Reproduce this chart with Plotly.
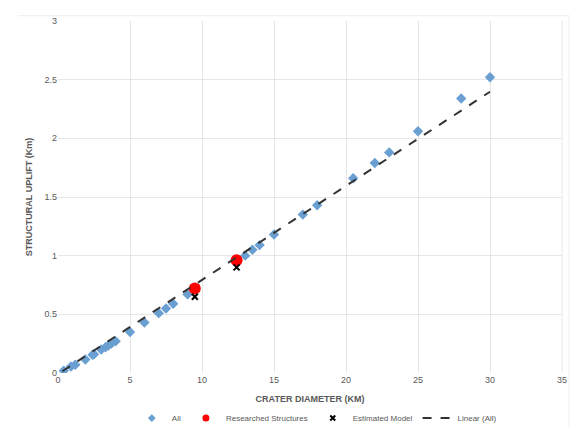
import plotly.graph_objects as go

# Data
all_x = [0.4, 0.9, 1.2, 1.9, 2.4, 2.5, 3.0, 3.3, 3.5, 3.7, 4.0, 5.0, 6.0, 7.0, 7.5, 8.0, 9.0,
         13.0, 13.5, 14.0, 15.0, 17.0, 18.0, 20.5, 22.0, 23.0, 25.0, 28.0, 30.0]
all_y = [0.02, 0.055, 0.07, 0.115, 0.155, 0.16, 0.2, 0.22, 0.235, 0.25, 0.27, 0.35, 0.43, 0.51, 0.55, 0.59, 0.67,
         1.0, 1.05, 1.09, 1.18, 1.35, 1.43, 1.66, 1.79, 1.88, 2.06, 2.34, 2.52]
res_x = [9.5, 12.4]
res_y = [0.72, 0.96]
est_x = [9.5, 12.4]
est_y = [0.65, 0.90]

# Linear trendline coefficients
trend_slope = 0.0802
trend_intercept = -0.009
trend_x = [0.3, 30.0]
trend_y = [trend_slope * v + trend_intercept for v in trend_x]

grey = "#595959"
fig = go.Figure()
fig.add_trace(go.Scatter(x=all_x, y=all_y, mode="markers", name="All", showlegend=False,
                         marker=dict(symbol="diamond", size=8, color="#6a9fd2")))
fig.add_trace(go.Scatter(x=res_x, y=res_y, mode="markers", name="Researched Structures", showlegend=False,
                         marker=dict(symbol="circle", size=12, color="#ff0000")))
fig.add_trace(go.Scatter(x=est_x, y=est_y, mode="markers", name="Estimated Model", showlegend=False,
                         marker=dict(symbol="x-thin", size=6, color="black",
                                     line=dict(width=2, color="black"))))
fig.add_trace(go.Scatter(x=trend_x, y=trend_y, mode="lines", name="Linear (All)", showlegend=False,
                         line=dict(color="#333333", width=2, dash="dash")))

# legend-only entries with small symbols, like the reference legend
fig.add_trace(go.Scatter(x=[None], y=[None], mode="markers", name="All",
                         marker=dict(symbol="diamond", size=6, color="#6a9fd2")))
fig.add_trace(go.Scatter(x=[None], y=[None], mode="markers", name="Researched Structures",
                         marker=dict(symbol="circle", size=7, color="#ff0000")))
fig.add_trace(go.Scatter(x=[None], y=[None], mode="markers", name="Estimated Model",
                         marker=dict(symbol="x-thin", size=5, color="black",
                                     line=dict(width=2, color="black"))))
fig.add_trace(go.Scatter(x=[None], y=[None], mode="lines", name="Linear (All)",
                         line=dict(color="#333333", width=2, dash="dash")))

fig.update_layout(
    width=576, height=427,
    margin=dict(l=58, r=14, t=21, b=54),
    plot_bgcolor="white", paper_bgcolor="white",
    font=dict(family="Liberation Sans, Arial", size=9, color=grey),
    showlegend=True,
    legend=dict(orientation="h", x=0.55, xanchor="center", xref="container",
                y=0.021, yanchor="middle", yref="container",
                font=dict(size=8, color=grey), itemwidth=30, traceorder="normal"),
    xaxis=dict(range=[0, 35], dtick=5, showgrid=True, gridcolor="#e6e6e6", zeroline=False,
               showline=False, ticks="", tickfont=dict(size=9, color=grey), automargin=False,
               title=dict(text="<b>CRATER DIAMETER (KM)</b>", font=dict(size=9, color=grey), standoff=12)),
    yaxis=dict(range=[0, 3], dtick=0.5, showgrid=True, gridcolor="#e6e6e6", zeroline=False,
               showline=False, ticks="", tickfont=dict(size=9, color=grey), automargin=False,
               title=dict(text="<b>STRUCTURAL UPLIFT (Km)</b>", font=dict(size=9, color=grey), standoff=10)),
    shapes=[dict(type="line", xref="paper", yref="paper", x0=1.0, x1=1.0, y0=0, y1=1,
                 line=dict(color="#e6e6e6", width=1)),
            dict(type="line", xref="paper", yref="paper", x0=-0.08, x1=1.014, y0=1.015, y1=1.015,
                 line=dict(color="#eeeeee", width=1)),
            dict(type="line", xref="paper", yref="paper", x0=1.014, x1=1.014, y0=1.015, y1=-0.16,
                 line=dict(color="#eeeeee", width=1))],
)
fig.write_html("out.html")
